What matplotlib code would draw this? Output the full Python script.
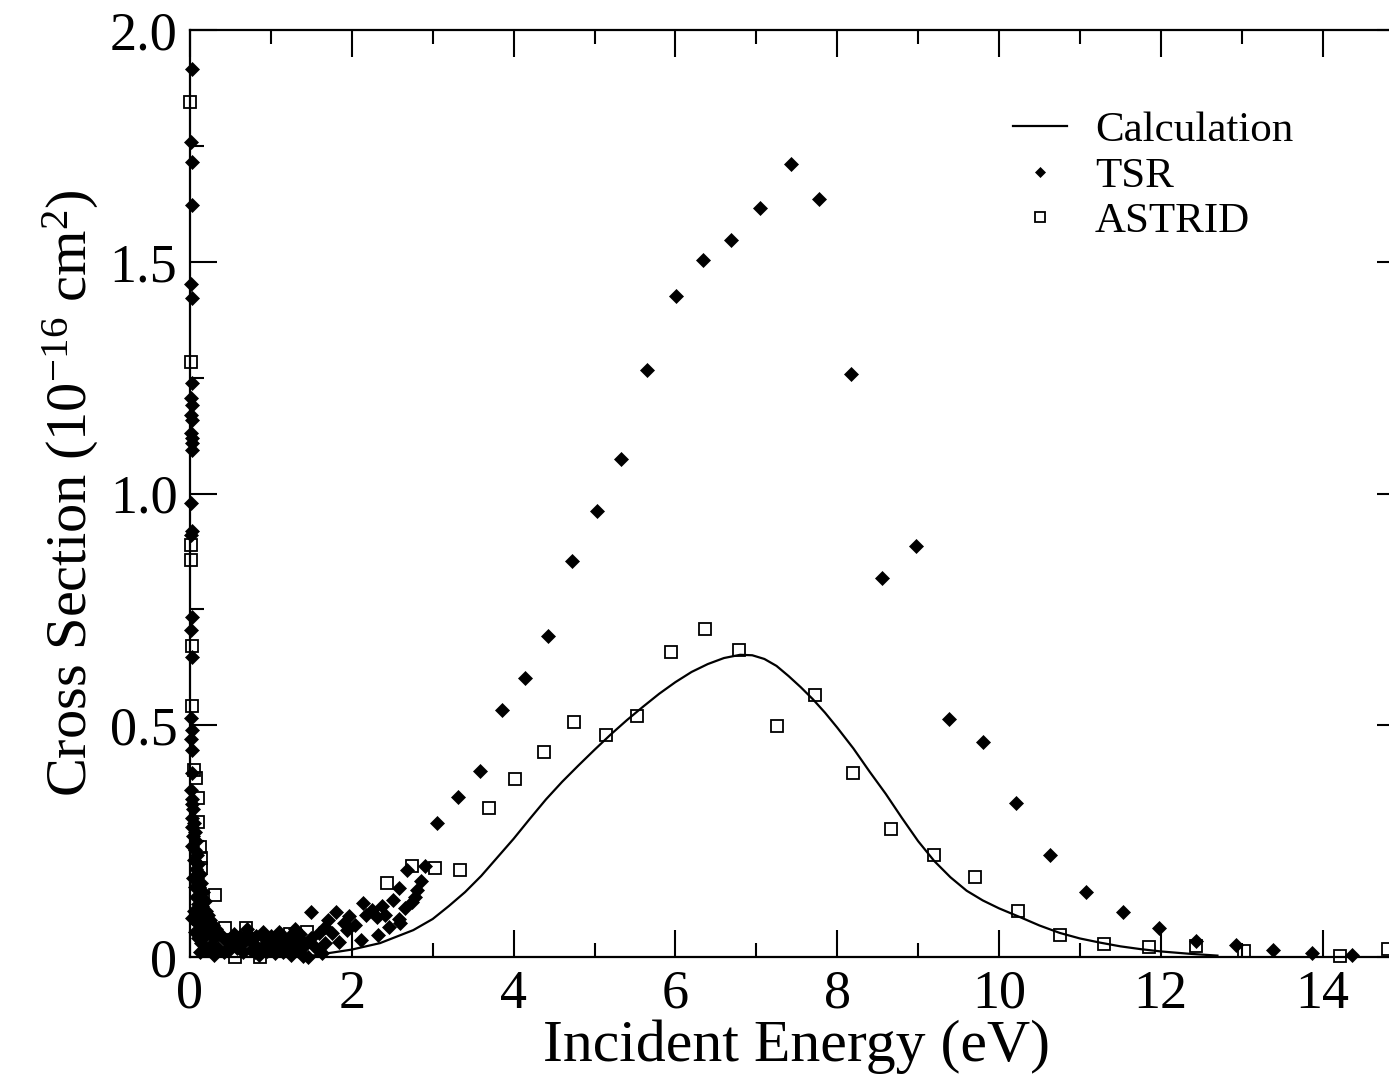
import matplotlib
matplotlib.use("Agg")
import matplotlib.pyplot as plt
from matplotlib.ticker import MultipleLocator, FixedLocator, FixedFormatter

plt.rcParams['font.family'] = ['Liberation Serif', 'DejaVu Serif']
plt.rcParams['mathtext.fontset'] = 'custom'
plt.rcParams['mathtext.rm'] = 'Liberation Serif'
plt.rcParams['mathtext.it'] = 'Liberation Serif:italic'

# ---- Calculation curve ----
calc_x = [1.4, 1.7, 2.0, 2.35, 2.76, 3.0, 3.2, 3.4, 3.6, 3.8, 4.0, 4.2, 4.4, 4.6, 4.8,
          5.0, 5.2, 5.4, 5.6, 5.8, 6.0, 6.2, 6.4, 6.6, 6.8, 6.95, 7.1, 7.25, 7.4, 7.55,
          7.7, 7.85, 8.0, 8.2, 8.4, 8.6, 8.8, 9.0, 9.2, 9.4, 9.6, 9.8, 10.0, 10.26,
          10.5, 10.75, 11.0, 11.25, 11.5, 11.75, 12.0, 12.35, 12.7]
calc_y = [0.0, 0.008, 0.016, 0.03, 0.058, 0.082, 0.11, 0.14, 0.175, 0.215, 0.255, 0.298,
          0.340, 0.378, 0.413, 0.447, 0.480, 0.511, 0.540, 0.568, 0.593, 0.615, 0.632,
          0.645, 0.652, 0.651, 0.643, 0.628, 0.606, 0.582, 0.556, 0.527, 0.495, 0.45,
          0.40, 0.352, 0.30, 0.25, 0.207, 0.172, 0.143, 0.122, 0.105, 0.086, 0.068,
          0.052, 0.040, 0.031, 0.023, 0.017, 0.012, 0.007, 0.003]

# ---- TSR data ----
tsr_x = [
    # column along the axis at very low energy
    0.02, 0.01, 0.02, 0.02, 0.01, 0.02, 0.02, 0.01, 0.02, 0.01, 0.02, 0.01, 0.02, 0.03,
    0.02, 0.01, 0.02, 0.01, 0.02, 0.01, 0.02, 0.01, 0.02, 0.01, 0.02, 0.02, 0.01, 0.03,
    # decaying region
    0.02, 0.04, 0.03, 0.05, 0.02, 0.06, 0.04, 0.08, 0.03, 0.06, 0.09, 0.05, 0.10, 0.07,
    0.12, 0.04, 0.09, 0.14, 0.06, 0.11, 0.16, 0.08, 0.13, 0.18, 0.10, 0.15, 0.20, 0.05,
    0.12, 0.22, 0.17, 0.03, 0.25, 0.08, 0.20, 0.28, 0.14, 0.32, 0.06, 0.24, 0.36, 0.18,
    0.10, 0.40, 0.30, 0.45, 0.14, 0.26, 0.50, 0.35, 0.20, 0.42, 0.55, 0.60, 0.48, 0.12,
    0.30,
    # flat region
    0.55, 0.62, 0.68, 0.72, 0.78, 0.82, 0.88, 0.92, 0.96, 1.00, 1.04, 1.08, 1.12, 1.16,
    1.20, 1.24, 1.28, 1.32, 1.36, 1.42, 0.65, 0.75, 0.85, 0.95, 1.05, 1.15, 1.25, 1.35,
    0.70, 0.90, 1.10, 1.30, 0.58, 0.80, 1.00, 1.20, 1.40,
    # rising region
    1.50, 1.81, 1.96, 1.90, 2.04, 1.94, 1.71, 1.67, 1.59, 1.75, 1.67, 1.50, 1.38, 1.55,
    1.46, 1.63, 2.14, 2.25, 2.37, 2.41, 2.18, 2.31, 1.84, 2.11, 2.33, 2.46, 2.60, 2.58,
    2.66, 2.51, 2.74, 2.78, 2.80, 2.58, 2.85, 2.68, 2.90,
    # main peak
    3.05, 3.31, 3.58, 3.86, 4.14, 4.43, 4.72, 5.03, 5.33, 5.65, 6.01, 6.34, 6.69, 7.05,
    7.43, 7.77, 8.17, 8.55, 8.97, 9.38, 9.80, 10.21, 10.63, 11.08, 11.53, 11.98, 12.43,
    12.93, 13.39, 13.87, 14.36,
]
tsr_y = [
    1.916, 1.759, 1.715, 1.622, 1.453, 1.421, 1.238, 1.205, 1.19, 1.17, 1.158, 1.13, 1.12, 1.108,
    1.094, 0.979, 0.92, 0.91, 0.734, 0.705, 0.648, 0.515, 0.49, 0.47, 0.447, 0.397, 0.36, 0.34,
    0.33, 0.32, 0.30, 0.29, 0.28, 0.27, 0.26, 0.25, 0.24, 0.23, 0.22, 0.21, 0.20, 0.19,
    0.18, 0.17, 0.17, 0.16, 0.15, 0.15, 0.14, 0.13, 0.13, 0.12, 0.115, 0.11, 0.10, 0.10,
    0.095, 0.09, 0.085, 0.085, 0.08, 0.075, 0.07, 0.07, 0.065, 0.06, 0.055, 0.055, 0.05, 0.045,
    0.04, 0.045, 0.04, 0.035, 0.03, 0.025, 0.03, 0.02, 0.015, 0.01, 0.04, 0.025, 0.015, 0.01,
    0.005,
    0.05, 0.045, 0.035, 0.05, 0.03, 0.045, 0.02, 0.04, 0.03, 0.045, 0.025, 0.035, 0.015, 0.04,
    0.03, 0.045, 0.02, 0.035, 0.05, 0.025, 0.01, 0.015, 0.005, 0.012, 0.008, 0.01, 0.005, 0.012,
    0.06, 0.055, 0.055, 0.06, 0.02, 0.01, 0.02, 0.015, 0.002,
    0.098, 0.098, 0.088, 0.073, 0.069, 0.058, 0.080, 0.065, 0.051, 0.051, 0.030, 0.040, 0.033, 0.022,
    0.0, 0.008, 0.116, 0.101, 0.109, 0.091, 0.091, 0.087, 0.032, 0.037, 0.047, 0.065, 0.073, 0.083,
    0.105, 0.123, 0.119, 0.13, 0.145, 0.148, 0.165, 0.188, 0.196,
    0.289, 0.345, 0.401, 0.533, 0.602, 0.693, 0.854, 0.962, 1.074, 1.266, 1.426, 1.504, 1.547, 1.616,
    1.711, 1.635, 1.258, 0.818, 0.887, 0.513, 0.464, 0.332, 0.220, 0.140, 0.097, 0.063, 0.035,
    0.026, 0.015, 0.009, 0.004,
]

# ---- ASTRID data ----
astrid_x = [0.0, 0.01, 0.01, 0.01, 0.02, 0.03, 0.05, 0.07, 0.10, 0.10, 0.12, 0.14, 0.14,
            0.31, 0.43, 0.69, 0.56, 0.87, 1.24, 1.45, 2.43, 2.74, 3.03, 3.34, 3.69,
            4.02, 4.38, 4.75, 5.14, 5.53, 5.95, 6.36, 6.79, 7.25, 7.72, 8.20, 8.67,
            9.20, 9.70, 10.23, 10.76, 11.30, 11.86, 12.43, 13.03, 14.21, 14.81]
astrid_y = [1.845, 1.284, 0.889, 0.856, 0.672, 0.542, 0.403, 0.387, 0.342, 0.292, 0.238,
            0.213, 0.193, 0.133, 0.062, 0.062, 0.0, 0.0, 0.050, 0.055, 0.159, 0.196,
            0.191, 0.188, 0.321, 0.383, 0.443, 0.508, 0.479, 0.521, 0.657, 0.707, 0.662,
            0.499, 0.565, 0.398, 0.276, 0.219, 0.173, 0.099, 0.047, 0.028, 0.021, 0.024,
            0.014, 0.003, 0.017]

fig = plt.figure(figsize=(13.89, 10.80), dpi=100)
ax = fig.add_axes([190/1389, 123/1080, 1213.5/1389, 927/1080])

ax.plot(calc_x, calc_y, color='black', lw=1.6, label='Calculation', zorder=2)
ax.plot(tsr_x, tsr_y, linestyle='none', marker='D', ms=7.3, mfc='black', mec='black',
        mew=0.5, label='TSR', clip_on=False, zorder=3)
ax.plot(astrid_x, astrid_y, linestyle='none', marker='s', ms=9, mfc='none', mec='black',
        mew=1.3, label='ASTRID', clip_on=False, zorder=4)

ax.set_xlim(0, 15)
ax.set_ylim(0, 2.0)

ax.xaxis.set_major_locator(FixedLocator([0, 2, 4, 6, 8, 10, 12, 14]))
ax.xaxis.set_minor_locator(MultipleLocator(1))
ax.yaxis.set_major_locator(FixedLocator([0, 0.5, 1.0, 1.5, 2.0]))
ax.yaxis.set_major_formatter(FixedFormatter(['0', '0.5', '1.0', '1.5', '2.0']))
ax.yaxis.set_minor_locator(MultipleLocator(0.25))

ax.tick_params(which='both', direction='in', top=True, right=True, width=1.5,
               labelsize=39, colors='black')
ax.tick_params(which='major', length=19.5)
ax.tick_params(which='minor', length=10)
ax.tick_params(axis='x', which='major', pad=9)
ax.tick_params(axis='y', which='major', pad=9)
for s in ax.spines.values():
    s.set_linewidth(1.6)

ax.set_xlabel('Incident Energy (eV)', fontsize=43, labelpad=0)
ax.set_ylabel('Cross Section (10$^{\\mathregular{-16}}$ cm$^{\\mathregular{2}}$)',
              fontsize=42, labelpad=6)

leg = ax.legend(loc='upper left', bbox_to_anchor=((1013 - 190) / 1213.5, (957 - 111) / 927),
                frameon=False, fontsize=31, handlelength=1.25, handletextpad=0.65,
                labelspacing=0.15, markerscale=0.75, borderaxespad=0, borderpad=0)

fig.savefig('out.png', dpi=100)
